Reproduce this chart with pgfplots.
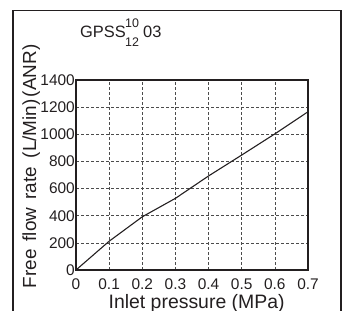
\documentclass[border=0pt]{standalone}
\usepackage{pgfplots}
\pgfplotsset{compat=1.18}
\usepackage{fontspec}
\setmainfont{Liberation Sans}
\definecolor{ink}{HTML}{231F20}
\begin{document}
\begin{tikzpicture}
\useasboundingbox (0bp,0bp) rectangle (348bp,311bp);
\draw[ink, line width=1.4bp] (13bp,-10bp) -- (13bp,300.5bp) -- (341bp,300.5bp) -- (341bp,-10bp);
\node[anchor=base west, inner sep=0pt, text=ink] at (80bp,273.7bp) {\fontsize{16.5}{16.5}\selectfont GPSS};
\node[anchor=base west, inner sep=0pt, text=ink] at (125bp,283.7bp) {\fontsize{12.5}{12.5}\selectfont 10};
\node[anchor=base west, inner sep=0pt, text=ink] at (125bp,264.3bp) {\fontsize{12.5}{12.5}\selectfont 12};
\node[anchor=base west, inner sep=0pt, text=ink] at (143bp,273.7bp) {\fontsize{16.5}{16.5}\selectfont 03};
\begin{axis}[
  at={(76bp,41bp)}, anchor=south west,
  scale only axis, width=232bp, height=190bp,
  xmin=0, xmax=0.7, ymin=0, ymax=1400,
  xtick={0,0.1,...,0.7},
  xticklabels={0,0.1,0.2,0.3,0.4,0.5,0.6,0.7},
  ytick={0,200,...,1400},
  yticklabels={0,200,400,600,800,1000,1200,1400},
  major tick length=0pt,
  grid=major,
  major grid style={black!70, line width=0.7bp, dash pattern=on 3bp off 2bp},
  axis line style={ink, line width=1.3bp},
  tick label style={font=\fontsize{15.5}{15.5}\selectfont, text=ink},
  /pgf/number format/assume math mode=true,
  xticklabel style={anchor=north, inner sep=0pt, yshift=-9bp},
  yticklabel style={anchor=east, inner sep=0pt, xshift=-1bp},
  xlabel={Inlet pressure (MPa)},
  ylabel={Free\hspace{8bp}flow\hspace{8bp}rate\hspace{9bp}(L/Min)\hspace{2bp}(ANR)},
  xlabel style={font=\fontsize{19.5}{19.5}\selectfont, text=ink, at={(axis description cs:0.52,-0.2)}, anchor=base, inner sep=0pt},
  ylabel style={font=\fontsize{19}{19}\selectfont, text=ink, at={(axis description cs:-0.172,0.545)}, anchor=base, inner sep=0pt},
]
\addplot[ink, line width=1.1bp] coordinates {
 (0,0) (0.1,212) (0.2,392) (0.3,528) (0.4,693) (0.5,847) (0.6,1003) (0.7,1166)
};
\end{axis}
\end{tikzpicture}
\end{document}
